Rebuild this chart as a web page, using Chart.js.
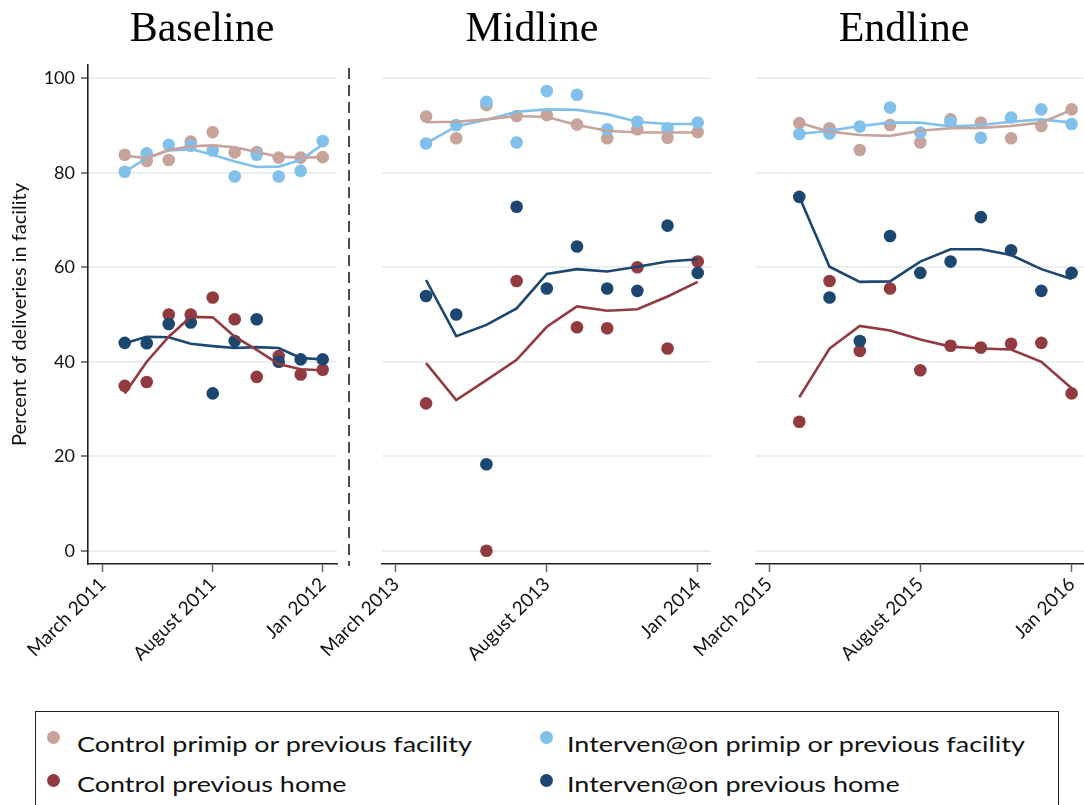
<!DOCTYPE html>
<html>
<head>
<meta charset="utf-8">
<script src="https://cdn.jsdelivr.net/npm/chart.js@4/dist/chart.umd.min.js"></script>
<style>
  html, body { margin:0; padding:0; background:#fff; width:1084px; height:805px; overflow:hidden; }
  .panel { position:absolute; top:0; height:700px; }
  #legend { position:absolute; left:35px; top:711px; width:1024px; height:110px; border:1.5px solid #222; box-sizing:border-box; font-family:Lato, "Open Sans", sans-serif; font-size:22px; color:#111; }
  .item { position:absolute; height:28px; line-height:28px; white-space:nowrap; transform:scaleX(1.225); transform-origin:0 50%; }
  .dot { position:absolute; width:13px; height:13px; border-radius:50%; }
</style>
</head>
<body>
<div class="panel" style="left:0;width:345px"><canvas id="c1"></canvas></div>
<div class="panel" style="left:300px;width:417px"><canvas id="c2"></canvas></div>
<div class="panel" style="left:680px;width:410px"><canvas id="c3"></canvas></div>
<div id="legend"></div>
<script>
// ---- data ----
const monthIndex = [1,2,3,4,5,6,7,8,9,10]; // months after March of each survey round
const tickMonths = [0,5,10];
const panelTitles = ['Baseline','Midline','Endline'];
const baselineTicks = ['March 2011','August 2011','Jan 2012'];
const midlineTicks  = ['March 2013','August 2013','Jan 2014'];
const endlineTicks  = ['March 2015','August 2015','Jan 2016'];
const yTicks = [0,20,40,60,80,100];
const seriesNames = ['Control primip or previous facility','Control previous home','Interven@on primip or previous facility','Interven@on previous home'];
const seriesColors = ['#c6a39b','#913a40','#80c0ea','#1b4770'];

// Baseline
const baseCtrlPrimip    = [83.8, 82.5, 82.7, 86.6, 88.6, 84.3, 84.4, 83.2, 83.2, 83.3];
const baseCtrlPrimipFit = [83.6, 83.1, 84.8, 85.6, 85.8, 85.4, 84.4, 83.4, 83.2, 83.3];
const baseCtrlHome      = [34.9, 35.7, 50.0, 50.0, 53.6, 49.0, 36.8, 41.2, 37.3, 38.3];
const baseCtrlHomeFit   = [33.3, 40.0, 45.3, 49.5, 49.4, 45.3, 42.5, 39.5, 38.4, 38.2];
const baseIntPrimip     = [80.2, 84.1, 85.9, 85.7, 84.7, 79.2, 83.8, 79.2, 80.4, 86.7];
const baseIntPrimipFit  = [80.2, 83.1, 84.7, 85.0, 83.8, 82.4, 81.2, 81.3, 82.7, 86.0];
const baseIntHome       = [44.0, 43.9, 48.0, 48.3, 33.3, 44.4, 49.0, 40.0, 40.5, 40.5];
const baseIntHomeFit    = [43.9, 45.3, 45.2, 43.8, 43.3, 42.9, 43.1, 42.9, 40.8, 40.5];

// Midline
const midCtrlPrimip    = [91.9, 87.3, 94.3, 92.0, 92.2, 90.2, 87.3, 89.2, 87.4, 88.6];
const midCtrlPrimipFit = [90.7, 90.8, 91.3, 92.0, 91.8, 90.1, 88.9, 88.5, 88.5, 88.5];
const midCtrlHome      = [31.2, null, 0.0, 57.1, null, 47.3, 47.1, 60.0, 42.8, 61.2];
const midCtrlHomeFit   = [39.7, 31.9, 36.1, 40.4, 47.4, 51.7, 50.8, 51.1, 53.8, 56.9];
const midIntPrimip     = [86.2, 90.1, 95.0, 86.4, 97.3, 96.5, 89.2, 90.8, 89.4, 90.6];
const midIntPrimipFit  = [86.2, 89.8, 91.2, 92.9, 93.4, 93.3, 92.4, 90.8, 90.3, 90.3];
const midIntHome       = [53.9, 50.0, 18.3, 72.8, 55.5, 64.4, 55.5, 55.0, 68.8, 58.8];
const midIntHomeFit    = [57.3, 45.4, 47.8, 51.3, 58.6, 59.6, 59.1, 60.1, 61.2, 61.7];

// Endline
const endCtrlPrimip    = [90.5, 89.4, 84.8, 90.1, 86.4, 91.3, 90.6, 87.3, 89.9, 93.4];
const endCtrlPrimipFit = [90.6, 88.7, 88.0, 87.8, 88.9, 89.4, 89.5, 89.9, 90.6, 93.3];
const endCtrlHome      = [27.3, 57.1, 42.3, 55.5, 38.2, 43.4, 43.0, 43.8, 44.0, 33.3];
const endCtrlHomeFit   = [32.5, 42.8, 47.6, 46.6, 44.7, 43.2, 42.8, 42.6, 40.0, 34.4];
const endIntPrimip     = [88.2, 88.3, 89.8, 93.8, 88.5, 90.7, 87.4, 91.7, 93.4, 90.3];
const endIntPrimipFit  = [88.2, 88.9, 89.9, 90.6, 90.6, 89.8, 90.1, 90.8, 91.3, 90.6];
const endIntHome       = [74.9, 53.6, 44.4, 66.6, 58.8, 61.2, 70.6, 63.6, 55.0, 58.8];
const endIntHomeFit    = [74.9, 60.1, 56.9, 57.0, 61.2, 63.8, 63.8, 62.6, 59.6, 57.5];

// ---- chart building ----
const fontFamily = 'Lato, "Open Sans", sans-serif';
const toXY = arr => monthIndex.map((m,i) => ({x:m, y:arr[i]}));

function buildDatasets(points, fits) {
  const ds = [];
  fits.forEach((arr, i) => ds.push({
    label: seriesNames[i] + ' fit', data: toXY(arr), showLine: true,
    borderColor: seriesColors[i], borderWidth: 2.6, pointRadius: 0, fill: false, order: 0
  }));
  points.forEach((arr, i) => ds.push({
    label: seriesNames[i], data: toXY(arr), showLine: false,
    backgroundColor: seriesColors[i], borderColor: seriesColors[i],
    pointRadius: 6.3, pointBorderWidth: 0, order: 4 - i
  }));
  return ds;
}

const panelDecor = {
  id: 'panelDecor',
  afterDraw(chart, args, opts) {
    const ctx = chart.ctx;
    ctx.save();
    ctx.font = '42px "Liberation Serif", "Times New Roman", serif';
    ctx.fillStyle = '#000';
    ctx.textAlign = 'center';
    ctx.textBaseline = 'alphabetic';
    ctx.fillText(opts.title, opts.titleX, 41);
    if (opts.dashX !== undefined) {
      ctx.strokeStyle = '#111';
      ctx.lineWidth = 1.5;
      ctx.setLineDash([11, 6]);
      ctx.beginPath();
      ctx.moveTo(opts.dashX, 68);
      ctx.lineTo(opts.dashX, 566);
      ctx.stroke();
    }
    ctx.restore();
  }
};

function makeChart(id, cfg) {
  const showY = cfg.showY;
  return new Chart(document.getElementById(id), {
    type: 'scatter',
    data: { datasets: buildDatasets(cfg.points, cfg.fits) },
    plugins: [panelDecor],
    options: {
      responsive: true, maintainAspectRatio: false, animation: false,
      layout: { padding: { top: 65, left: cfg.padLeft, right: cfg.padRight, bottom: 0 } },
      plugins: {
        legend: { display: false }, tooltip: { enabled: false },
        panelDecor: { title: cfg.title, titleX: cfg.titleX, dashX: cfg.dashX }
      },
      scales: {
        x: {
          type: 'linear', min: cfg.xMin, max: cfg.xMax,
          afterBuildTicks: s => { s.ticks = tickMonths.map(v => ({value: v})); },
          afterFit: s => { s.height = 136; s.paddingLeft = 0; s.paddingRight = 0; },
          ticks: {
            autoSkip: false, minRotation: 45, maxRotation: 45, padding: 1,
            color: '#111', font: { family: fontFamily, size: 19 },
            callback: v => cfg.tickLabels[tickMonths.indexOf(v)]
          },
          grid: { drawOnChartArea: false, drawTicks: true, tickLength: 8, tickColor: '#666', tickWidth: 1.5 },
          border: { display: true, color: '#222', width: 1.6 }
        },
        y: {
          min: -2.8, max: 102.8,
          afterBuildTicks: s => { s.ticks = yTicks.map(v => ({value: v})); },
          afterFit: s => { s.width = showY ? 88 : 0; },
          ticks: { display: showY, color: '#111', font: { family: fontFamily, size: 18 }, padding: 6 },
          title: {
            display: showY, text: 'Percent of deliveries in facility', color: '#111',
            font: { family: fontFamily, size: 20 }, padding: { top: 8, bottom: 0 }
          },
          grid: { color: '#e9eff2', lineWidth: 2, drawTicks: showY, tickLength: 7, tickColor: '#555', tickWidth: 1.5 },
          border: { display: showY, color: '#222', width: 1.6 }
        }
      }
    }
  });
}

makeChart('c1', {
  title: panelTitles[0], titleX: 202, showY: true, padLeft: 0, padRight: 8,
  xMin: -0.67, xMax: 10.65, tickLabels: baselineTicks,
  points: [baseCtrlPrimip, baseCtrlHome, baseIntPrimip, baseIntHome],
  fits: [baseCtrlPrimipFit, baseCtrlHomeFit, baseIntPrimipFit, baseIntHomeFit]
});
makeChart('c2', {
  title: panelTitles[1], titleX: 232, showY: false, padLeft: 82, padRight: 0, dashX: 49,
  xMin: -0.46, xMax: 10.43, tickLabels: midlineTicks,
  points: [midCtrlPrimip, midCtrlHome, midIntPrimip, midIntHome],
  fits: [midCtrlPrimipFit, midCtrlHomeFit, midIntPrimipFit, midIntHomeFit]
});
makeChart('c3', {
  title: panelTitles[2], titleX: 224, showY: false, padLeft: 76, padRight: 0,
  xMin: -0.43, xMax: 10.4, tickLabels: endlineTicks,
  points: [endCtrlPrimip, endCtrlHome, endIntPrimip, endIntHome],
  fits: [endCtrlPrimipFit, endCtrlHomeFit, endIntPrimipFit, endIntHomeFit]
});

// ---- legend (real text) ----
// positions relative to the legend box: [textLeft, rowTop, dotCenterX, dotCenterY]
const legendPos = [[41, 18, 17, 25], [41, 58, 17, 68], [531, 18, 510, 25], [531, 58, 510, 68]];
const legendEl = document.getElementById('legend');
seriesNames.forEach((name, k) => {
  const p = legendPos[k];
  const d = document.createElement('span');
  d.className = 'dot';
  d.style.background = seriesColors[k];
  d.style.left = (p[2] - 6.5) + 'px';
  d.style.top = (p[3] - 6.5) + 'px';
  legendEl.appendChild(d);
  const it = document.createElement('div');
  it.className = 'item';
  it.style.left = p[0] + 'px';
  it.style.top = p[1] + 'px';
  it.textContent = name;
  legendEl.appendChild(it);
});
</script>
</body>
</html>
